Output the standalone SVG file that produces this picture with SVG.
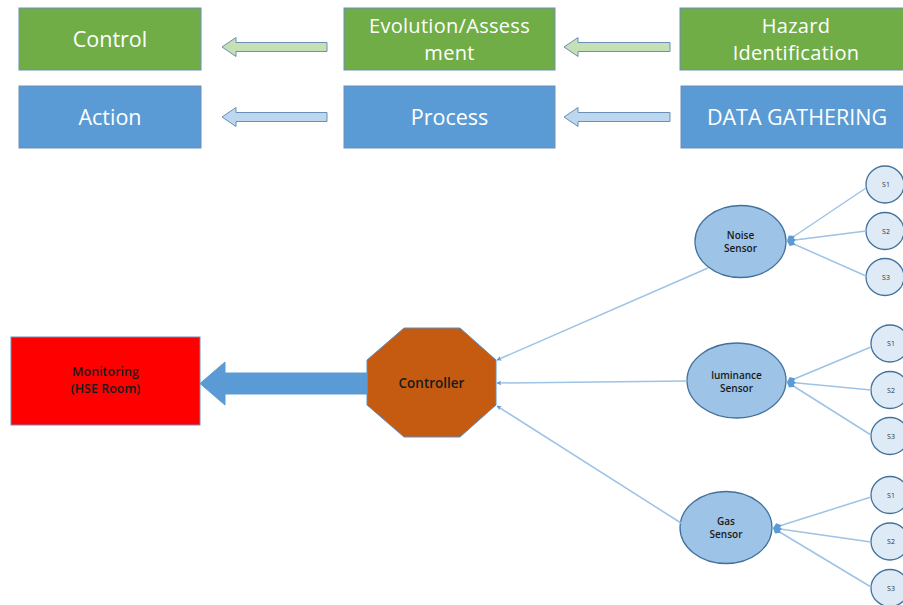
<svg xmlns="http://www.w3.org/2000/svg" width="903" height="605" viewBox="0 0 903 605">
<defs>
<marker id="ah" viewBox="0 0 10 10" refX="9" refY="5" markerWidth="5" markerHeight="5" orient="auto-start-reverse" markerUnits="userSpaceOnUse">
<path d="M0,0 L10,5 L0,10 L3,5 Z" fill="#5B9BD5"/>
</marker>
<marker id="dh" viewBox="0 0 10 10" refX="10" refY="5" markerWidth="9" markerHeight="9" orient="auto" markerUnits="userSpaceOnUse">
<path d="M0,5 L5,1 L10,5 L5,9 Z" fill="#5B9BD5"/>
</marker>
</defs>
<style>
.g{fill:#70AD47;stroke:#6A8FB8;stroke-width:1}
.b{fill:#5B9BD5;stroke:#6A8FB8;stroke-width:1}
.wt{font-family:"Open Sans","Liberation Sans",sans-serif;font-size:21.5px;fill:#FFFFFF;text-anchor:middle}
.w2{font-size:20px;letter-spacing:0.3px}
.dt{font-family:"Open Sans","Liberation Sans",sans-serif;fill:#1A1A1A;text-anchor:middle;font-weight:600}
.el{fill:#9DC3E6;stroke:#41719C;stroke-width:1.3}
.sm{fill:#DEEBF7;stroke:#41719C;stroke-width:1.3}
.ln{stroke:#9DC3E6;stroke-width:1.5;fill:none}
.st{font-family:"Open Sans","Liberation Sans",sans-serif;font-size:7px;fill:#333;text-anchor:middle}
</style>
<rect width="903" height="605" fill="#FFFFFF"/>

<g id="control"><rect class="g" x="19" y="8" width="182" height="62"/><text class="wt" x="110" y="47">Control</text></g>
<g id="evolution"><rect class="g" x="344" y="8" width="211" height="62"/><text class="wt w2" x="449.5" y="33">Evolution/Assess</text><text class="wt w2" x="449.5" y="60">ment</text></g>
<g id="hazard"><rect class="g" x="680" y="8" width="230" height="62"/><text class="wt w2" x="796" y="33">Hazard</text><text class="wt w2" x="796" y="60">Identification</text></g>
<g id="action"><rect class="b" x="19" y="86" width="182" height="62"/><text class="wt" x="110" y="125">Action</text></g>
<g id="process"><rect class="b" x="344" y="86" width="211" height="62"/><text class="wt" x="449.5" y="125">Process</text></g>
<g id="datagathering"><rect class="b" x="681" y="86" width="230" height="62"/><text class="wt" x="797" y="125">DATA GATHERING</text></g>

<g id="monitoring"><rect x="11" y="337" width="189" height="88" fill="#FF0000" stroke="#6A8FB8" stroke-width="1"/><text class="dt" font-size="12.5" x="105.5" y="376">Monitoring</text><text class="dt" font-size="12.5" x="105.5" y="393">(HSE Room)</text></g>
<g id="controller"><polygon points="404,328 460,328 496,360 496,405 460,437 404,437 367,405 367,360" fill="#C55A11" stroke="#5B8FC7" stroke-width="1"/><text class="dt" font-size="13.5" x="431.5" y="388">Controller</text></g>

<g id="noise"><ellipse class="el" cx="740.5" cy="241.5" rx="45.5" ry="36"/><text class="dt" font-size="10" x="740.5" y="239">Noise</text><text class="dt" font-size="10" x="740.5" y="252">Sensor</text></g>
<g id="luminance"><ellipse class="el" cx="736.5" cy="380.5" rx="49.5" ry="37.5"/><text class="dt" font-size="10" x="736.5" y="379">luminance</text><text class="dt" font-size="10" x="736.5" y="392">Sensor</text></g>
<g id="gas"><ellipse class="el" cx="726" cy="527.5" rx="46" ry="36"/><text class="dt" font-size="10" x="726" y="525">Gas</text><text class="dt" font-size="10" x="726" y="538">Sensor</text></g>

<g id="noise-s1"><ellipse class="sm" cx="885" cy="184.5" rx="19" ry="18.5"/><text class="st" x="886" y="187">S1</text></g>
<g id="noise-s2"><ellipse class="sm" cx="885" cy="231" rx="19" ry="18.5"/><text class="st" x="886" y="234">S2</text></g>
<g id="noise-s3"><ellipse class="sm" cx="885" cy="277" rx="19" ry="18.5"/><text class="st" x="886" y="280">S3</text></g>
<g id="lum-s1"><ellipse class="sm" cx="890" cy="343.5" rx="19" ry="18.5"/><text class="st" x="891" y="346">S1</text></g>
<g id="lum-s2"><ellipse class="sm" cx="890" cy="390" rx="19" ry="18.5"/><text class="st" x="891" y="393">S2</text></g>
<g id="lum-s3"><ellipse class="sm" cx="890" cy="436" rx="19" ry="18.5"/><text class="st" x="891" y="439">S3</text></g>
<g id="gas-s1"><ellipse class="sm" cx="890" cy="495" rx="19" ry="18.5"/><text class="st" x="891" y="498">S1</text></g>
<g id="gas-s2"><ellipse class="sm" cx="890" cy="541.5" rx="19" ry="18.5"/><text class="st" x="891" y="544">S2</text></g>
<g id="gas-s3"><ellipse class="sm" cx="890" cy="588" rx="19" ry="18.5"/><text class="st" x="891" y="591">S3</text></g>

<g id="connectors">
<path d="M327,42.5 L236,42.5 L236,37.5 L222,47 L236,56.5 L236,51.5 L327,51.5 Z" fill="#C5E0B4" stroke="#6A8FB8" stroke-width="1"/>
<path d="M670,42.5 L578,42.5 L578,37.5 L564,47 L578,56.5 L578,51.5 L670,51.5 Z" fill="#C5E0B4" stroke="#6A8FB8" stroke-width="1"/>
<path d="M327,112.5 L236,112.5 L236,107.5 L222,117 L236,126.5 L236,121.5 L327,121.5 Z" fill="#BDD7EE" stroke="#6A8FB8" stroke-width="1"/>
<path d="M670,112.5 L578,112.5 L578,107.5 L564,117 L578,126.5 L578,121.5 L670,121.5 Z" fill="#BDD7EE" stroke="#6A8FB8" stroke-width="1"/>
<path d="M367,373 L225,373 L225,362 L200,383.5 L225,405 L225,394 L367,394 Z" fill="#5B9BD5" stroke="#5B9BD5" stroke-width="1"/>
<line class="ln" x1="708" y1="268" x2="497" y2="360" marker-end="url(#ah)"/>
<line class="ln" x1="687" y1="381" x2="497" y2="383" marker-end="url(#ah)"/>
<line class="ln" x1="681" y1="523" x2="497" y2="406" marker-end="url(#ah)"/>
<line class="ln" x1="866" y1="188" x2="787" y2="241" marker-end="url(#dh)"/>
<line class="ln" x1="866" y1="231" x2="787" y2="241" marker-end="url(#dh)"/>
<line class="ln" x1="866" y1="276" x2="787" y2="241" marker-end="url(#dh)"/>
<line class="ln" x1="871" y1="347" x2="787" y2="382" marker-end="url(#dh)"/>
<line class="ln" x1="871" y1="390" x2="787" y2="382" marker-end="url(#dh)"/>
<line class="ln" x1="871" y1="435" x2="787" y2="382" marker-end="url(#dh)"/>
<line class="ln" x1="871" y1="497" x2="773" y2="528" marker-end="url(#dh)"/>
<line class="ln" x1="871" y1="542" x2="773" y2="528" marker-end="url(#dh)"/>
<line class="ln" x1="871" y1="587" x2="773" y2="528" marker-end="url(#dh)"/>
</g>
</svg>
